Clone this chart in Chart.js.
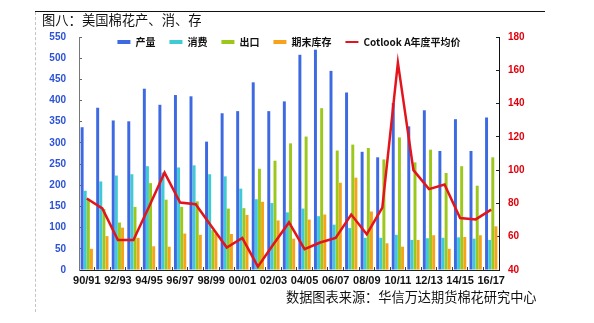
<!DOCTYPE html>
<html>
<head>
<meta charset="utf-8">
<script src="https://cdn.jsdelivr.net/npm/chart.js@4.4.0/dist/chart.umd.min.js"></script>
<style>
  html, body { margin: 0; padding: 0; background: #fff; }
  #wrap { position: relative; width: 594px; height: 323px; overflow: hidden; background: #fff; }
  #c { position: absolute; left: 0; top: 0; }
  #rule { position: absolute; left: 35px; top: 11px; width: 510px; height: 0; border-top: 1px solid #111; }
  #dash { position: absolute; left: 35px; top: 12px; width: 0; height: 300px; border-left: 1px dashed #c4c4c4; }
  #title { position: absolute; left: 42px; top: 13px; font: 13.3px/14px "Noto Sans CJK SC", sans-serif; color: #111; white-space: nowrap; }
  #source { position: absolute; left: 286px; top: 290px; font: 13.2px/14px "Noto Sans CJK SC", sans-serif; color: #111; white-space: nowrap; }
</style>
</head>
<body>
<div id="wrap">
  <canvas id="c" width="594" height="323"></canvas>
  <div id="rule"></div>
  <div id="dash"></div>
  <div id="title">图八：美国棉花产、消、存</div>
  <div id="source">数据图表来源：华信万达期货棉花研究中心</div>
</div>
<script>
// Marketing years
const seasons = ["90/91","91/92","92/93","93/94","94/95","95/96","96/97","97/98","98/99","99/00",
                 "00/01","01/02","02/03","03/04","04/05","05/06","06/07","07/08","08/09","09/10",
                 "10/11","11/12","12/13","13/14","14/15","15/16","16/17"];

// US cotton balance, 10k tonnes
const production = [337,383,353,351,428,390,413,410,303,370,375,443,375,398,508,520,470,419,279,266,394,339,377,281,356,281,360];
const consumption = [187,209,223,226,245,230,242,247,226,221,192,167,158,136,145,127,107,99,76,76,83,71,75,76,77,74,71];
const exports = [168,144,112,149,205,166,149,162,94,145,146,239,258,299,315,382,282,296,288,261,313,254,284,229,245,199,266];
const endingStocks = [50,80,100,76,56,55,86,83,85,85,130,161,117,74,119,131,206,218,138,63,55,71,82,50,78,82,103];

// Cotlook A index, yearly average (cents/lb)
const cotlookA = [83,77,58,58,78,98.5,80.5,79.5,66.5,53.5,59.2,42,55.5,68.6,52.5,56.5,59.2,73.3,61.5,77.5,164.6,100,88.6,91.4,71.2,70.4,76.3];

// Axis ranges
const leftTicks = { min: 0, max: 550, step: 50 };
const rightTicks = { min: 40, max: 180, step: 20 };

const tickFont = { family: '"Liberation Sans", Arial, sans-serif', size: 10, weight: 'bold' };

// Keeps the legend from pushing the plot area down, then lets it draw over the plot top
const legendOverlay = {
  id: 'legendOverlay',
  afterInit(chart) {
    const lg = chart.legend;
    if (!lg) return;
    const baseFit = lg.fit;
    lg.fit = function () { baseFit.call(this); this.height = 14; };
  },
  afterLayout(chart) {
    const lg = chart.legend;
    if (!lg) return;
    lg.height = 40;
    lg.bottom = lg.top + 40;
  }
};

const barCommon = { categoryPercentage: 0.8, barPercentage: 0.95, borderWidth: 0, yAxisID: 'y', order: 0 };

new Chart(document.getElementById('c'), {
  data: {
    labels: seasons,
    datasets: [
      { type: 'bar', label: '产量', data: production, backgroundColor: '#3d69e3', ...barCommon },
      { type: 'bar', label: '消费', data: consumption, backgroundColor: '#3fcad4', ...barCommon },
      { type: 'bar', label: '出口', data: exports, backgroundColor: '#9cc81c', ...barCommon },
      { type: 'bar', label: '期末库存', data: endingStocks, backgroundColor: '#f7a21b', ...barCommon },
      { type: 'line', label: 'Cotlook A年度平均价', data: cotlookA, yAxisID: 'y1',
        borderColor: '#e4141c', backgroundColor: '#e4141c', borderWidth: 2.5,
        pointRadius: 0, tension: 0, fill: false, order: -1 }
    ]
  },
  options: {
    responsive: false,
    devicePixelRatio: 1,
    animation: false,
    layout: { padding: { top: 23, left: 0, right: 0, bottom: 0 } },
    plugins: {
      title: { display: false },
      tooltip: { enabled: false },
      legend: {
        position: 'top',
        fullSize: false,
        align: 'center',
        labels: {
          usePointStyle: true,
          pointStyleWidth: 13,
          boxHeight: 4,
          padding: 14,
          color: '#111',
          font: { family: '"Noto Sans CJK SC", sans-serif', size: 10, weight: 'bold' },
          sort: (a, b) => a.datasetIndex - b.datasetIndex,
          generateLabels(chart) {
            const items = Chart.defaults.plugins.legend.labels.generateLabels(chart);
            items.forEach(it => {
              const ds = chart.data.datasets[it.datasetIndex];
              if (ds.type === 'line') {
                it.pointStyle = 'line';
                it.lineWidth = 2;
                it.strokeStyle = ds.borderColor;
              } else {
                it.pointStyle = 'rect';
                it.lineWidth = 0;
              }
            });
            return items;
          }
        }
      }
    },
    scales: {
      x: {
        type: 'category',
        offset: true,
        grid: { display: true, drawOnChartArea: false, drawTicks: true, tickLength: -3, color: '#444', offset: true },
        border: { display: true, color: '#222', width: 1 },
        ticks: {
          autoSkip: false, maxRotation: 0, minRotation: 0, padding: 7, color: '#111',
          font: { family: '"Liberation Sans", Arial, sans-serif', size: 11, weight: 'bold' },
          callback(value, index) { return index % 2 === 0 ? this.getLabelForValue(value) : ''; }
        },
        afterFit(scale) { scale.height = 53; }
      },
      y: {
        position: 'left',
        min: leftTicks.min, max: leftTicks.max,
        grid: { drawOnChartArea: false, drawTicks: true, tickLength: -3, color: '#666' },
        border: { display: true, color: '#777', width: 1 },
        ticks: { stepSize: leftTicks.step, padding: 16, color: '#2c52d6', font: tickFont },
        afterFit(scale) { scale.width = 79; }
      },
      y1: {
        position: 'right',
        min: rightTicks.min, max: rightTicks.max,
        grid: { drawOnChartArea: false, drawTicks: true, tickLength: -3, color: '#222' },
        border: { display: true, color: '#111', width: 1 },
        ticks: { stepSize: rightTicks.step, padding: 12, color: '#e0000b', font: tickFont },
        afterFit(scale) { scale.width = 95; }
      }
    }
  },
  plugins: [legendOverlay]
});
</script>
</body>
</html>
